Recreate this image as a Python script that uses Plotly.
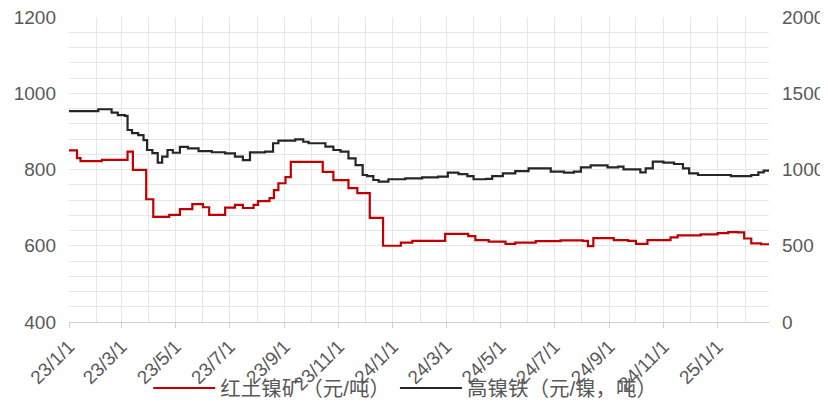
import plotly.graph_objects as go

# 红土镍矿（元/吨） - left axis
ore_dates = ["2023-01-01", "2023-01-10", "2023-01-14", "2023-02-07", "2023-03-08", "2023-03-14",
             "2023-03-29", "2023-04-06", "2023-04-24", "2023-05-06", "2023-05-20", "2023-06-01",
             "2023-06-08", "2023-06-26", "2023-07-07", "2023-07-16", "2023-07-28", "2023-08-02",
             "2023-08-15", "2023-08-20", "2023-08-25", "2023-09-02", "2023-09-08", "2023-10-14",
             "2023-10-26", "2023-11-12", "2023-11-22", "2023-12-06", "2023-12-21", "2024-01-10",
             "2024-01-23", "2024-02-29", "2024-03-26", "2024-04-03", "2024-04-18", "2024-05-07",
             "2024-05-18", "2024-06-10", "2024-07-08", "2024-08-02", "2024-08-08", "2024-08-14",
             "2024-09-06", "2024-09-22", "2024-10-01", "2024-10-14", "2024-11-09", "2024-11-17",
             "2024-12-13", "2025-01-01", "2025-01-13", "2025-01-24", "2025-01-31", "2025-02-08",
             "2025-02-19", "2025-02-28"]
ore_values = [850, 830, 822, 825, 847, 799,
              722, 676, 681, 696, 709, 701,
              681, 700, 707, 699, 707, 717,
              725, 746, 764, 780, 820, 794,
              772, 751, 738, 673, 600, 608,
              613, 631, 625, 615, 611, 605,
              608, 612, 614, 613, 599, 620,
              615, 613, 605, 615, 622, 627,
              630, 633, 636, 635, 619, 606,
              604, 601]

# 高镍铁 - right axis
npi_dates = ["2023-01-01", "2023-02-03", "2023-02-18", "2023-02-25", "2023-03-05", "2023-03-08",
             "2023-03-13", "2023-03-20", "2023-03-26", "2023-03-30", "2023-04-05", "2023-04-11",
             "2023-04-16", "2023-04-22", "2023-04-28", "2023-05-06", "2023-05-15", "2023-05-27",
             "2023-06-11", "2023-06-26", "2023-07-07", "2023-07-16", "2023-07-24", "2023-08-10",
             "2023-08-19", "2023-08-25", "2023-09-13", "2023-09-22", "2023-09-28", "2023-10-17",
             "2023-10-26", "2023-11-03", "2023-11-12", "2023-11-20", "2023-11-28", "2023-12-03",
             "2023-12-10", "2023-12-16", "2023-12-27", "2024-01-15", "2024-02-03", "2024-02-21",
             "2024-03-03", "2024-03-15", "2024-03-25", "2024-04-01", "2024-04-15", "2024-04-22",
             "2024-05-04", "2024-05-18", "2024-06-02", "2024-06-27", "2024-07-12", "2024-07-23",
             "2024-07-31", "2024-08-11", "2024-08-30", "2024-09-11", "2024-09-17", "2024-10-06",
             "2024-10-12", "2024-10-20", "2024-11-01", "2024-11-13", "2024-11-23", "2024-11-30",
             "2024-12-10", "2025-01-01", "2025-01-16", "2025-02-08", "2025-02-16", "2025-02-22",
             "2025-02-28"]
npi_values = [1383, 1395, 1373, 1357, 1351, 1259,
              1239, 1226, 1193, 1128, 1108, 1045,
              1084, 1128, 1110, 1149, 1139, 1121,
              1113, 1106, 1084, 1062, 1112, 1117,
              1172, 1189, 1198, 1182, 1172, 1150,
              1128, 1117, 1073, 1029, 964, 957,
              931, 920, 936, 942, 949, 953,
              979, 970, 957, 936, 938, 957,
              975, 990, 1008, 986, 979, 986,
              1014, 1027, 1014, 1019, 1001, 981,
              1008, 1051, 1045, 1036, 1008, 975,
              964, 964, 957, 964, 981, 992,
              990]

names = ["红土镍矿（元/吨）", "高镍铁（元/镍，吨）"]

FONT = "Liberation Sans, Noto Sans CJK SC, sans-serif"
GRID = "#e6e6e6"
TXT = "#595959"

fig = go.Figure()
fig.add_trace(go.Scatter(x=ore_dates, y=ore_values, name=names[0], mode="lines",
                         line=dict(color="#c00000", width=2.2, shape="hv"), yaxis="y"))
fig.add_trace(go.Scatter(x=npi_dates, y=npi_values, name=names[1], mode="lines",
                         line=dict(color="#262626", width=2.2, shape="hv"), yaxis="y2"))

# page body has an 8px margin, so the figure is 8px smaller and margins shifted
fig.update_layout(
    width=820, height=396,
    margin=dict(l=61, r=59, t=9, b=82),
    paper_bgcolor="white", plot_bgcolor="white",
    font=dict(family=FONT, color=TXT, size=19),
    showlegend=True,
    legend=dict(orientation="h", x=0.171, xanchor="left", xref="container",
                y=0.04, yanchor="middle", yref="container",
                font=dict(size=20.5, color=TXT), bgcolor="rgba(0,0,0,0)", itemwidth=62),
    xaxis=dict(
        type="date", range=["2023-01-01", "2025-02-28"], automargin=False,
        tick0="2023-01-01", dtick="M2", tickformat="%y/%-m/%-d", tickangle=-45,
        showgrid=True, gridcolor=GRID, gridwidth=1,
        minor=dict(dtick="M1", tick0="2023-01-01", showgrid=True, gridcolor=GRID, gridwidth=1),
        showline=True, linecolor="#d0d0d0", linewidth=1,
        ticks="outside", ticklen=5, tickcolor="#d0d0d0",
        tickfont=dict(size=19, color=TXT), zeroline=False,
        ticklabeloverflow="allow",
    ),
    yaxis=dict(
        range=[400, 1200], dtick=200, tick0=400, automargin=False,
        showgrid=True, gridcolor=GRID, gridwidth=1,
        minor=dict(dtick=40, tick0=400, showgrid=True, gridcolor=GRID, gridwidth=1),
        showline=False, zeroline=False, ticks="", ticklabelstandoff=12,
        tickfont=dict(size=19, color=TXT), ticklabeloverflow="allow",
    ),
    yaxis2=dict(
        range=[0, 2000], dtick=500, overlaying="y", side="right", automargin=False,
        showgrid=False, showline=False, zeroline=False, ticks="", ticklabelstandoff=12,
        tickfont=dict(size=19, color=TXT), ticklabeloverflow="allow",
    ),
)

fig.write_html("out.html")
